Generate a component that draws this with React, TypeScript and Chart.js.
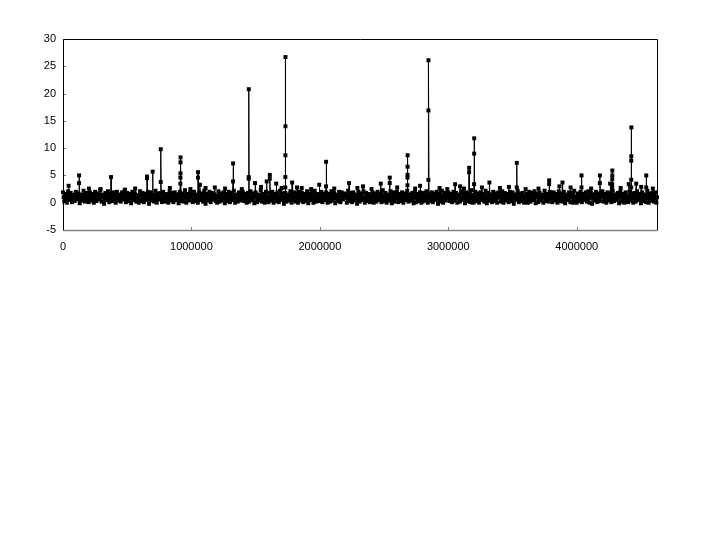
import React, { useEffect, useRef } from "react";
import { Chart, registerables } from "chart.js";

Chart.register(...registerables);

// Base signal: regularly sampled genome positions (start, step) with values
const baseStart = 0;
const baseStep = 10000;
const baseValues: number[] = [
  1.9,0.2,1.6,0.0,2.1,0.5,1.8,0.1,1.4,0.3,2.0,0.6,1.7,-0.1,1.5,0.4,2.2,0.2,1.8,0.7,
  0.1,1.9,0.4,1.6,0.0,2.0,0.3,1.7,0.8,2.3,0.2,1.5,-0.2,1.8,0.5,2.1,0.1,1.6,0.3,1.9,
  1.7,0.0,2.0,0.4,1.5,0.2,1.9,0.6,2.2,0.1,1.8,0.3,1.6,-0.1,2.0,0.5,1.7,0.2,1.4,0.0,
  2.1,0.3,1.8,0.1,1.6,0.5,2.0,-0.2,1.9,0.4,1.5,0.2,2.2,0.0,1.7,0.6,1.8,0.1,2.0,0.3,
  0.2,1.6,0.0,2.1,0.4,1.8,0.1,1.9,0.5,1.5,-0.1,2.0,0.3,1.7,0.2,2.3,0.0,1.6,0.4,1.9,
  1.8,0.1,2.0,0.3,1.5,0.0,1.9,0.5,1.7,0.2,2.2,-0.2,1.6,0.4,2.0,0.1,1.8,0.6,1.5,0.3,
  0.0,2.1,0.2,1.7,0.4,1.9,-0.1,1.6,0.3,2.0,0.1,1.8,0.5,2.2,0.0,1.5,0.2,1.9,0.4,1.7,
  2.0,0.3,1.6,0.0,1.8,0.2,2.1,0.5,1.7,-0.1,1.9,0.1,1.5,0.4,2.3,0.2,1.6,0.0,2.0,0.3,
  0.1,1.8,0.4,2.0,0.0,1.6,0.3,1.9,0.1,2.2,0.5,1.7,-0.2,1.8,0.2,1.5,0.4,2.1,0.0,1.7,
  1.9,0.2,1.5,0.0,2.0,0.4,1.8,0.1,1.6,0.3,2.1,-0.1,1.7,0.5,1.9,0.0,2.2,0.2,1.6,0.4,
  0.3,2.0,0.1,1.7,0.5,1.9,0.0,1.6,0.2,2.1,0.4,1.8,-0.1,1.5,0.3,2.0,0.1,1.9,0.6,1.7,
  1.6,0.0,2.2,0.3,1.8,0.1,1.9,0.4,1.5,-0.2,2.0,0.2,1.7,0.5,2.1,0.0,1.8,0.3,1.6,0.1,
  0.4,1.9,0.0,1.7,0.2,2.0,0.5,1.6,0.1,2.3,0.3,1.8,0.0,1.5,0.4,2.1,-0.1,1.9,0.2,1.7,
  2.0,0.1,1.6,0.3,1.9,0.0,1.7,0.5,2.2,0.2,1.5,0.4,1.8,-0.1,2.0,0.1,1.6,0.3,1.9,0.0,
  0.2,1.8,0.4,2.1,0.0,1.5,0.3,1.9,0.1,1.7,0.5,2.0,-0.2,1.6,0.2,2.2,0.0,1.8,0.4,1.7,
  1.9,0.3,1.6,0.1,2.0,0.4,1.8,0.0,1.5,0.2,2.1,0.5,1.7,-0.1,1.9,0.3,1.6,0.1,2.3,0.0,
  0.1,2.0,0.3,1.7,0.0,1.9,0.5,1.6,0.2,2.2,-0.1,1.8,0.4,1.5,0.1,2.0,0.3,1.7,0.0,1.9,
  1.7,0.2,2.1,0.0,1.8,0.4,1.6,0.1,2.0,0.3,1.9,-0.2,1.5,0.5,2.2,0.1,1.7,0.3,1.8,0.0,
  0.3,1.6,0.0,2.0,0.2,1.8,0.5,2.1,-0.1,1.7,0.1,1.9,0.4,1.5,0.0,2.2,0.3,1.6,0.2,2.0,
  1.8,0.1,1.9,0.4,1.6,0.0,2.1,0.3,1.7,0.2,2.0,-0.1,1.5,0.5,1.9,0.1,1.8,0.0,2.2,0.4,
  0.0,1.7,0.3,2.0,0.1,1.6,0.5,1.9,0.2,2.1,0.0,1.8,-0.2,1.5,0.4,2.0,0.1,1.7,0.3,1.9,
  2.1,0.2,1.6,0.0,1.9,0.4,1.7,0.1,2.2,0.3,1.5,0.5,1.8,-0.1,2.0,0.2,1.6,0.0,1.9,0.3,
  0.1,2.0,0.4,1.7,0.0,1.8,0.2,2.1,0.5,1.6,-0.1,1.9,0.3,1.5,0.1,2.2,0.0,1.7,0.4,1.8,
  0.2,1.9,0.0,1.6,
];

// Intermediate samples, halfway between the base positions
const midStart = 5000;
const midStep = 10000;
const midValues: number[] = [
  1.0,0.7,1.3,0.9,1.2,0.6,1.4,0.8,1.1,1.5,0.7,1.0,1.3,0.5,1.2,0.9,1.4,0.8,1.1,0.6,
  1.3,0.9,1.0,1.5,0.7,1.2,0.8,1.4,0.6,1.1,1.0,1.3,0.7,1.2,0.9,1.5,0.8,1.0,1.4,0.6,
  1.2,0.8,1.4,1.0,0.6,1.3,0.9,1.1,1.5,0.7,1.2,0.8,1.0,1.4,0.5,1.1,1.3,0.9,0.7,1.2,
  0.9,1.4,0.7,1.1,1.3,0.8,1.0,1.5,0.6,1.2,0.9,1.3,0.7,1.1,1.4,0.8,1.0,0.6,1.3,1.1,
  0.8,1.2,1.0,0.6,1.4,0.9,1.3,0.7,1.1,1.5,0.8,1.0,1.2,0.6,1.4,0.9,1.1,1.3,0.7,1.0,
  1.4,0.7,1.1,1.3,0.9,1.2,0.5,1.0,1.4,0.8,1.3,0.9,1.1,0.7,1.5,1.0,0.8,1.2,0.6,1.3,
  1.0,1.3,0.8,1.1,0.6,1.4,1.0,0.9,1.2,0.7,1.5,1.1,0.8,1.3,0.9,1.0,1.4,0.6,1.2,0.8,
  1.1,0.9,1.4,0.7,1.2,1.0,0.6,1.3,0.8,1.1,1.4,0.9,1.2,0.5,1.0,1.3,0.7,1.5,0.9,1.1,
  0.7,1.2,1.0,1.4,0.8,1.1,1.3,0.6,1.0,1.2,0.9,1.5,0.7,1.1,1.3,0.8,1.0,1.4,0.6,1.2,
  1.3,0.8,1.1,0.9,1.4,0.7,1.0,1.2,0.6,1.3,1.1,0.8,1.5,0.9,1.0,1.2,0.7,1.4,1.0,0.8,
  1.2,1.0,0.7,1.3,0.9,1.5,0.8,1.1,1.4,0.6,1.0,1.2,0.9,1.3,0.7,1.1,1.4,0.8,1.0,1.2,
  0.9,1.3,1.1,0.6,1.2,0.8,1.4,1.0,0.7,1.3,0.9,1.1,1.5,0.8,1.0,0.6,1.2,1.4,0.9,1.1,
  1.4,0.8,1.0,1.2,0.7,1.3,0.9,1.5,1.1,0.6,1.2,1.0,0.8,1.4,1.1,0.9,1.3,0.7,1.0,1.2,
  0.8,1.1,1.4,0.9,1.2,0.6,1.0,1.3,0.8,1.5,1.1,0.7,1.2,1.0,0.9,1.4,0.6,1.1,1.3,0.9,
  1.1,1.3,0.7,1.0,1.4,0.8,1.2,0.9,1.1,0.6,1.3,1.0,1.5,0.8,1.2,0.7,1.1,1.4,0.9,1.0,
  1.2,0.9,1.3,0.7,1.0,1.4,0.8,1.1,1.2,0.6,1.3,0.9,1.0,1.5,0.7,1.2,1.1,0.8,1.4,1.0,
  0.9,1.2,0.6,1.3,1.1,0.8,1.4,1.0,0.7,1.2,0.9,1.5,1.1,0.8,1.3,1.0,0.6,1.2,1.4,0.9,
  1.3,1.0,0.8,1.2,0.7,1.4,1.1,0.9,1.3,0.6,1.0,1.2,0.8,1.5,1.1,0.9,1.3,0.7,1.0,1.2,
  1.0,1.4,0.9,0.7,1.2,1.1,0.8,1.3,1.0,1.5,0.6,1.2,0.9,1.1,1.4,0.8,1.0,1.3,0.7,1.1,
  1.2,0.8,1.3,1.0,0.6,1.4,0.9,1.1,1.2,0.7,1.3,1.0,0.8,1.4,0.9,1.2,1.5,0.7,1.1,1.0,
  0.9,1.3,1.1,0.7,1.4,1.0,0.8,1.2,0.6,1.3,1.1,0.9,1.5,1.0,0.7,1.2,1.4,0.8,1.1,1.3,
  1.0,0.7,1.2,1.4,0.9,1.1,0.6,1.3,1.0,0.8,1.5,1.2,0.9,1.1,1.3,0.7,1.0,1.4,0.8,1.2,
  1.1,0.9,1.4,0.8,1.0,1.3,0.7,1.2,1.1,0.6,1.4,1.0,0.9,1.3,0.8,1.2,1.0,1.5,0.7,1.1,
  1.3,0.9,1.0,
];

// Spikes: position and the values recorded there (ascending)
const spikePos: number[] = [
  44000, 125000, 374000, 654000, 698000, 761000, 914000, 1051000, 1066000, 1110000,
  1324000, 1446000, 1495000, 1586000, 1610000, 1660000, 1731000, 1784000, 1859000, 1995000,
  2048000, 2227000, 2336000, 2474000, 2544000, 2682000, 2780000, 2845000, 3053000, 3092000,
  3162000, 3201000, 3320000, 3533000, 3785000, 3865000, 3889000, 4037000, 4180000, 4260000,
  4276000, 4405000, 4424000, 4463000, 4541000,
  202000, 292000, 482000, 562000, 832000, 992000, 1182000, 1262000, 1392000, 1542000,
  1702000, 1822000, 1932000, 2112000, 2292000, 2402000, 2602000, 2742000, 2932000, 2992000,
  3122000, 3262000, 3402000, 3472000, 3602000, 3702000, 3952000, 4112000, 4342000, 4502000,
  4592000,
];
const spikeVals: number[][] = [
  [3.1], [3.6, 5.0], [4.7], [4.5, 4.8], [5.7], [3.8, 9.8], [3.5, 4.6, 5.4, 7.4, 8.3], [4.6, 5.6], [3.3], [2.7],
  [3.9, 7.2], [4.4, 4.7, 20.8], [3.6], [3.9], [4.4, 5.1], [3.5], [2.8, 4.7, 8.7, 14.0, 26.7], [3.7], [2.7], [3.3],
  [3.0, 7.5], [3.6], [3.0], [3.5], [3.6, 4.6], [3.2, 4.6, 5.1, 6.6, 8.7], [3.1], [4.2, 16.9, 26.1], [3.4], [3.0],
  [5.6, 6.4], [3.4, 9.0, 11.8], [3.7], [2.8, 7.3], [3.4, 4.1], [3.0], [3.7], [2.8, 5.0], [3.6, 5.0], [3.5],
  [2.9, 3.4, 4.3, 5.0, 5.9], [3.4], [2.8, 4.2, 7.7, 8.5, 13.8], [3.5], [2.8, 5.0],
  [2.6], [2.5], [2.4], [2.6], [2.7], [2.5], [2.8], [2.6], [2.5], [2.9],
  [2.7], [2.8], [2.5], [2.6], [2.7], [2.5], [2.8], [2.6], [2.7], [2.5],
  [2.6], [2.8], [2.7], [2.9], [2.5], [2.6], [2.8], [2.6], [2.7], [2.9],
  [2.6],
];

const xTickLabels = [0, 1000000, 2000000, 3000000, 4000000];
const yTickLabels = [-5, 0, 5, 10, 15, 20, 25, 30];
const xMin = 0;
const xMax = 4625000;

function buildPoints() {
  const pts: { x: number; y: number; o: number }[] = [];
  let order = 0;
  baseValues.forEach((v, i) => pts.push({ x: baseStart + i * baseStep, y: v, o: order++ }));
  midValues.forEach((v, i) => pts.push({ x: midStart + i * midStep, y: v, o: order++ }));
  spikePos.forEach((p, i) => {
    spikeVals[i].forEach((v, k) => pts.push({ x: p + k * 300, y: v, o: order++ }));
  });
  pts.sort((a, b) => a.x - b.x || a.o - b.o);
  return pts.map((p) => ({ x: p.x, y: p.y }));
}

const frame = {
  id: "frame",
  afterDraw(chart: any) {
    const { ctx, chartArea: a, scales } = chart;
    ctx.save();
    ctx.strokeStyle = "#808080";
    ctx.lineWidth = 1;
    yTickLabels.forEach((v) => {
      const y = Math.round(scales.y.getPixelForValue(v)) + 0.5;
      ctx.beginPath();
      ctx.moveTo(a.left, y);
      ctx.lineTo(a.left + 3, y);
      ctx.stroke();
    });
    xTickLabels.forEach((v) => {
      const x = Math.round(scales.x.getPixelForValue(v)) + 0.5;
      ctx.beginPath();
      ctx.moveTo(x, a.bottom);
      ctx.lineTo(x, a.bottom - 3);
      ctx.stroke();
    });
    const l = Math.round(a.left) + 0.5;
    const r = Math.round(a.right) + 0.5;
    const t = Math.round(a.top) + 0.5;
    const b = Math.round(a.bottom) + 0.5;
    ctx.strokeStyle = "#000";
    ctx.beginPath();
    ctx.moveTo(l, b);
    ctx.lineTo(l, t);
    ctx.lineTo(r, t);
    ctx.lineTo(r, b);
    ctx.stroke();
    ctx.strokeStyle = "#808080";
    ctx.lineWidth = 1.5;
    ctx.beginPath();
    ctx.moveTo(l, b);
    ctx.lineTo(r, b);
    ctx.stroke();
    ctx.restore();
  },
};

export default function App() {
  const ref = useRef<HTMLCanvasElement>(null);
  useEffect(() => {
    document.body.style.margin = "0";
    const chart = new Chart(ref.current!, {
      type: "line",
      data: {
        datasets: [
          {
            data: buildPoints(),
            borderColor: "#000",
            backgroundColor: "#000",
            borderWidth: 1,
            pointStyle: "rect",
            pointRadius: 2.8,
            pointBorderWidth: 0,
            pointBackgroundColor: "#000",
            tension: 0,
            clip: 3,
          } as any,
        ],
      },
      options: {
        responsive: false,
        animation: false,
        layout: { padding: { left: 8, right: 63, top: 39, bottom: 280 } },
        plugins: { legend: { display: false }, tooltip: { enabled: false } },
        scales: {
          x: {
            type: "linear",
            min: xMin,
            max: xMax,
            grid: { display: false, drawTicks: false },
            border: { display: false },
            afterBuildTicks: (s: any) => {
              s.ticks = xTickLabels.map((v) => ({ value: v }));
            },
            afterFit: (s: any) => {
              s.height = 30;
            },
            ticks: {
              padding: 10,
              maxRotation: 0,
              autoSkip: false,
              color: "#000",
              font: { size: 11, family: "'Liberation Sans', Arial, sans-serif" },
              callback: (v: any) => String(v),
            },
          },
          y: {
            type: "linear",
            min: -5,
            max: 30,
            grid: { display: false, drawTicks: false },
            border: { display: false },
            afterBuildTicks: (s: any) => {
              s.ticks = yTickLabels.map((v) => ({ value: v }));
            },
            afterFit: (s: any) => {
              s.width = 55;
            },
            ticks: {
              padding: 7,
              color: "#000",
              font: { size: 11, family: "'Liberation Sans', Arial, sans-serif" },
              callback: (v: any) => String(v),
            },
          },
        },
      },
      plugins: [frame],
    });
    return () => chart.destroy();
  }, []);
  return <canvas ref={ref} width={720} height={540} style={{ display: "block" }} />;
}
